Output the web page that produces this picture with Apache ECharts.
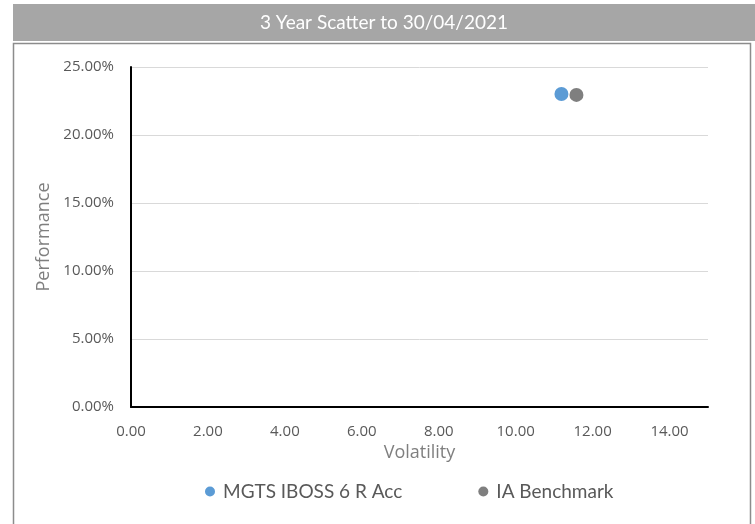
<!DOCTYPE html>
<html>
<head>
<meta charset="utf-8">
<script src="https://cdn.jsdelivr.net/npm/echarts@6/dist/echarts.min.js"></script>
<style>
html,body{margin:0;padding:0;background:#fff}
#chart{width:755px;height:524px}
</style>
</head>
<body>
<div id="chart"></div>
<script>
let chartTitle = "3 Year Scatter to 30/04/2021"
let seriesNames = ["MGTS IBOSS 6 R Acc","IA Benchmark"]
let seriesColors = ["#5b9bd5","#7f7f7f"]
// [volatility, performance %]
let fundPoint = [[11.19,23.02]]
let benchPoint = [[11.58,22.95]]

let chart = echarts.init(document.getElementById("chart"))

let labelFont = "'Open Sans', 'Liberation Sans', sans-serif"
let gillFont = "Lato, 'Open Sans', sans-serif"

/** 图表配置 */
let option = {
    animation:false,
    graphic:[
        {type:"rect",shape:{x:13,y:4,width:742,height:37},style:{fill:"#a6a6a6"},silent:true},
        {type:"rect",shape:{x:13.5,y:43.5,width:737,height:490},style:{fill:"#fff",stroke:"#8c8c8c",lineWidth:1.5},silent:true,z:-1},
        {type:"text",x:384,y:23,style:{text:chartTitle,fill:"#fff",font:"19px "+gillFont,align:"center",verticalAlign:"middle"},silent:true}
    ],
    grid:{left:131,right:47,top:67,bottom:117},
    legend:{
        top:477,
        left:200,
        itemGap:76,
        itemWidth:10,
        itemHeight:10,
        icon:"circle",
        textStyle:{color:"#595959",fontSize:19,fontFamily:gillFont,padding:[0,0,0,3]},
        data:seriesNames
    },
    xAxis:{
        type:"value",
        min:0,
        max:15,
        interval:2,
        name:"Volatility",
        nameLocation:"middle",
        nameGap:27,
        nameTextStyle:{color:"#7f7f7f",fontSize:18,fontFamily:labelFont},
        axisLine:{show:true,onZero:false,lineStyle:{color:"#000",width:2}},
        axisTick:{show:false},
        splitLine:{show:false},
        axisLabel:{
            color:"#595959",fontSize:15,fontFamily:labelFont,margin:17,
            showMaxLabel:false,
            formatter:v=>v.toFixed(2)
        }
    },
    yAxis:{
        type:"value",
        min:0,
        max:25,
        interval:5,
        name:"Performance",
        nameLocation:"middle",
        nameGap:71,
        nameTextStyle:{color:"#7f7f7f",fontSize:18,fontFamily:labelFont},
        axisLine:{show:true,lineStyle:{color:"#000",width:2}},
        axisTick:{show:false},
        splitLine:{lineStyle:{color:"#d9d9d9",width:1}},
        axisLabel:{
            color:"#595959",fontSize:15,fontFamily:labelFont,margin:17,
            formatter:v=>v.toFixed(2)+"%"
        }
    },
    series:[
        {name:seriesNames[0],type:"scatter",symbolSize:14,itemStyle:{color:seriesColors[0],opacity:1},data:fundPoint,z:3},
        {name:seriesNames[1],type:"scatter",symbolSize:14,itemStyle:{color:seriesColors[1],opacity:1},data:benchPoint,z:2}
    ]
}

chart.setOption(option)
</script>
</body>
</html>
